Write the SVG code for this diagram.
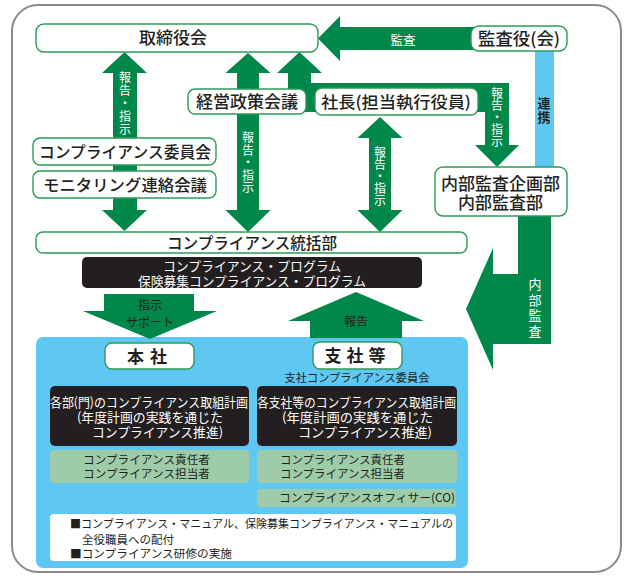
<svg xmlns="http://www.w3.org/2000/svg" width="624" height="576" viewBox="0 0 624 576">
<style>
text{font-family:"Noto Sans CJK JP","Noto Sans CJK SC",sans-serif;fill:#231f20}
.box{fill:#fff;stroke:#2e9a5a;stroke-width:1.4}
.arr{fill:#00874a}
.t17{font-size:17px;font-weight:500}
.t16{font-size:16px;font-weight:500}
.w{fill:#fff;font-size:12.5px}
.wv{fill:#fff;font-size:12px;text-anchor:middle;writing-mode:vertical-rl}
.blk{fill:#231f20}
.bt{fill:#fff;font-size:13px}
.lg{fill:#9ecba8}
.s{font-size:11.5px}
</style>
<rect x="12" y="5" width="609" height="567" rx="26" fill="#fff" stroke="#8a8a8a" stroke-width="2"/>
<rect id="blue-area" x="36" y="337" width="432" height="231" rx="7" fill="#5ec8f3"/>
<g id="connectors">
<polygon class="arr" points="124.5,52 147,73 137,73 137,210 147,210 124.5,231 102,210 113,210 113,73 102,73"/>
<polygon class="arr" points="248,53 270.5,73 259,73 259,210 270.5,210 248,232 225.5,210 237,210 237,73 225.5,73"/>
<polygon class="arr" points="380,117 402.5,138 391,138 391,210 402.5,210 380,232 357.5,210 369,210 369,138 357.5,138"/>
<polygon class="arr" points="299.5,52 322,73 311,73 311,83 509,83 509,145 519,145 497,167 475,145 485,145 485,112 288,112 288,73 277,73"/>
<polygon class="arr" points="318,38.5 340,16 340,27 475,27 475,50 340,50 340,61"/>
<polygon class="arr" points="518,214 551,214 551,344 493,344 493,370 466,309 493,248 493,274 518,274"/>
<polygon class="arr" points="104,294 194,294 194,311 217,311 150,339 83,311 104,311"/>
<polygon class="arr" points="356,292 424,321 402,321 402,338 310,338 310,321 288,321"/>
<rect x="535" y="50" width="19" height="118" fill="#5ec8f3"/>
<text x="403" y="44.5" class="w" text-anchor="middle">監査</text>
<text class="wv" x="125" y="103.5" letter-spacing="1">報告・指示</text>
<text class="wv" x="248" y="163" letter-spacing="0.5">報告・指示</text>
<text class="wv" x="380" y="176">報告・指示</text>
<text class="wv" x="497" y="117">報告・指示</text>
<text class="wv" x="535" y="309" style="font-size:13px" letter-spacing="2.5">内部監査</text>
<text fill="#fff" font-size="12" text-anchor="middle"><tspan x="150" y="309.5">指示</tspan><tspan x="150" y="327">サポート</tspan></text>
<text x="356" y="326" fill="#fff" font-size="12" text-anchor="middle">報告</text>
<text x="544" y="111" font-size="13" font-weight="bold" text-anchor="middle" style="writing-mode:vertical-rl" letter-spacing="1">連携</text>
</g>
<g id="torishimariyakukai"><rect class="box" x="36" y="24" width="282" height="28" rx="8"/><text class="t17" x="173" y="44" text-anchor="middle">取締役会</text></g>
<g id="kansayaku"><rect class="box" x="471" y="26" width="96" height="25" rx="8"/><text class="t17" x="519" y="44.5" text-anchor="middle" textLength="82" lengthAdjust="spacingAndGlyphs">監査役(会)</text></g>
<g id="keiei"><rect class="box" x="188" y="89" width="118" height="25" rx="7"/><text class="t17" x="247" y="107.5" text-anchor="middle">経営政策会議</text></g>
<g id="shacho"><rect class="box" x="315" y="88" width="163" height="27" rx="7"/><text class="t16" x="396" y="107.5" text-anchor="middle" textLength="150" lengthAdjust="spacingAndGlyphs">社長(担当執行役員)</text></g>
<g id="iinkai"><rect class="box" x="33" y="138" width="183" height="27" rx="7"/><text class="t16" x="125" y="157.5" text-anchor="middle" textLength="172" lengthAdjust="spacingAndGlyphs">コンプライアンス委員会</text></g>
<g id="monitoring"><rect class="box" x="33" y="171" width="183" height="27" rx="7"/><text class="t16" x="125" y="190.5" text-anchor="middle" textLength="164" lengthAdjust="spacingAndGlyphs">モニタリング連絡会議</text></g>
<g id="naibukansa"><rect class="box" x="435" y="167" width="132" height="49" rx="8"/><text class="t17" text-anchor="middle"><tspan x="500.5" y="189.5">内部監査企画部</tspan><tspan x="500.5" y="209">内部監査部</tspan></text></g>
<g id="tokatsubu"><rect class="box" x="36" y="232" width="431" height="21" rx="7"/><text class="t16" x="252" y="248.5" text-anchor="middle" textLength="170" lengthAdjust="spacingAndGlyphs">コンプライアンス統括部</text></g>
<g id="program"><rect class="blk" x="82" y="257" width="340" height="31" rx="5"/><text class="bt" text-anchor="middle"><tspan x="252" y="270.5" textLength="178" lengthAdjust="spacingAndGlyphs">コンプライアンス・プログラム</tspan><tspan x="252" y="285.5" textLength="228" lengthAdjust="spacingAndGlyphs">保険募集コンプライアンス・プログラム</tspan></text></g>
<g id="honsha"><rect class="box" x="105" y="343" width="89" height="26" rx="7"/><text x="150" y="362.5" font-size="17" font-weight="bold" text-anchor="middle" letter-spacing="6">本社</text></g>
<g id="shishato"><rect class="box" x="313" y="342" width="89" height="27" rx="7"/><text x="357.5" y="362" font-size="17" font-weight="bold" text-anchor="middle" letter-spacing="5">支社等</text></g>
<text class="s" x="357" y="381.5" text-anchor="middle" textLength="145" lengthAdjust="spacingAndGlyphs">支社コンプライアンス委員会</text>
<g id="honsha-plan"><rect class="blk" x="50" y="386" width="199" height="60" rx="5"/>
<text class="bt"><tspan x="50" y="407" textLength="198" lengthAdjust="spacingAndGlyphs">各部(門)のコンプライアンス取組計画</tspan><tspan x="77" y="422" textLength="146" lengthAdjust="spacingAndGlyphs">(年度計画の実践を通じた</tspan><tspan x="92" y="437" textLength="131" lengthAdjust="spacingAndGlyphs">コンプライアンス推進)</tspan></text></g>
<g id="shisha-plan"><rect class="blk" x="257" y="386" width="200" height="60" rx="5"/>
<text class="bt"><tspan x="257" y="407" textLength="199" lengthAdjust="spacingAndGlyphs">各支社等のコンプライアンス取組計画</tspan><tspan x="282" y="422" textLength="151" lengthAdjust="spacingAndGlyphs">(年度計画の実践を通じた</tspan><tspan x="298" y="437" textLength="134" lengthAdjust="spacingAndGlyphs">コンプライアンス推進)</tspan></text></g>
<g id="honsha-staff"><rect class="lg" x="50" y="450" width="199" height="33" rx="4"/><text class="s"><tspan x="83" y="463.5" textLength="127" lengthAdjust="spacingAndGlyphs">コンプライアンス責任者</tspan><tspan x="83" y="477.5" textLength="127" lengthAdjust="spacingAndGlyphs">コンプライアンス担当者</tspan></text></g>
<g id="shisha-staff"><rect class="lg" x="257" y="450" width="200" height="33" rx="4"/><text class="s"><tspan x="280" y="463.5" textLength="125" lengthAdjust="spacingAndGlyphs">コンプライアンス責任者</tspan><tspan x="280" y="477.5" textLength="125" lengthAdjust="spacingAndGlyphs">コンプライアンス担当者</tspan></text></g>
<g id="co"><rect class="lg" x="257" y="489" width="199" height="18" rx="4"/><text class="s" x="279" y="502" textLength="176" lengthAdjust="spacingAndGlyphs">コンプライアンスオフィサー(CO)</text></g>
<g id="manual"><rect x="50" y="514" width="406" height="47" rx="4" fill="#fff"/>
<text class="s"><tspan x="70" y="527.5" textLength="383" lengthAdjust="spacingAndGlyphs">■コンプライアンス・マニュアル、保険募集コンプライアンス・マニュアルの</tspan><tspan x="82" y="544" textLength="92" lengthAdjust="spacingAndGlyphs">全役職員への配付</tspan><tspan x="70" y="558" textLength="162" lengthAdjust="spacingAndGlyphs">■コンプライアンス研修の実施</tspan></text></g>
</svg>
